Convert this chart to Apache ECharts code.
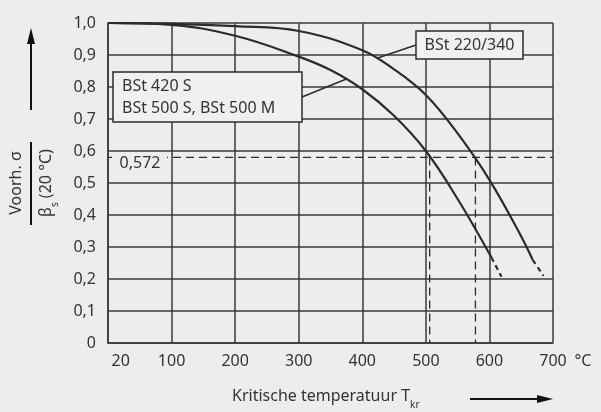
<!DOCTYPE html>
<html>
<head>
<meta charset="utf-8">
<script src="https://cdn.jsdelivr.net/npm/echarts@6/dist/echarts.min.js"></script>
<style>
  html, body { margin: 0; padding: 0; background: #ededed; }
  #chart { width: 601px; height: 412px; }
</style>
</head>
<body>
<div id="chart"></div>
<script>
// waarden
const xTickLabels = [20, 100, 200, 300, 400, 500, 600, 700];

// BSt 420 S / BSt 500 S / BSt 500 M
const tempLow = [0, 100, 200, 300, 350, 400, 450, 500, 550, 603];
const ratioLow = [1.0, 0.994, 0.96, 0.895, 0.853, 0.793, 0.71, 0.60, 0.45, 0.268];
const tempLowExt = [603, 619];
const ratioLowExt = [0.268, 0.207];

// BSt 220/340
const tempHigh = [0, 100, 200, 300, 400, 450, 500, 550, 600, 650, 668];
const ratioHigh = [1.0, 0.997, 0.99, 0.975, 0.915, 0.855, 0.775, 0.655, 0.51, 0.333, 0.26];
const tempHighExt = [668, 685];
const ratioHighExt = [0.26, 0.21];

// hulplijnen bij 0,572
const refRatio = 0.58;
const refTemps = [506, 578];
const refLabel = '0,572';

const labelHigh = 'BSt 220/340';
const labelLow = ['BSt 420 S', 'BSt 500 S, BSt 500 M'];

const ink = '#2b2b2b';
const gridInk = '#3a3a3a';
const font = 'Noto Sans';

const zip = (xs, ys) => xs.map((x, i) => [x, ys[i]]);

const chart = echarts.init(document.getElementById('chart'));

const curveStyle = { color: ink, width: 2.2 };
const dashStyle = { color: ink, width: 1.3, type: [8, 5] };

const option = {
  backgroundColor: '#ededed',
  animation: false,
  textStyle: { fontFamily: font, color: '#333' },
  grid: { left: 108, right: 48, top: 23, bottom: 69 },
  xAxis: {
    type: 'value',
    min: 0,
    max: 700,
    interval: 100,
    axisLine: { show: true, lineStyle: { color: gridInk, width: 1.5 } },
    axisTick: { show: false },
    splitLine: { show: true, lineStyle: { color: gridInk, width: 1.5 } },
    axisLabel: {
      customValues: xTickLabels,
      margin: 10,
      fontSize: 16,
      color: '#333',
      fontFamily: font
    }
  },
  yAxis: {
    type: 'value',
    min: 0,
    max: 1,
    interval: 0.1,
    axisLine: { show: true, lineStyle: { color: gridInk, width: 1.5 } },
    axisTick: { show: false },
    splitLine: { show: true, lineStyle: { color: gridInk, width: 1.5 } },
    axisLabel: {
      margin: 12,
      fontSize: 16,
      color: '#333',
      fontFamily: font,
      formatter: v => (v === 0 ? '0' : v.toFixed(1).replace('.', ','))
    }
  },
  series: [
    {
      type: 'line', data: zip(tempLow, ratioLow), smooth: 0.4,
      symbol: 'none', lineStyle: curveStyle, z: 5
    },
    {
      type: 'line', data: zip(tempLowExt, ratioLowExt), symbol: 'none',
      lineStyle: { color: ink, width: 2.2, type: [5, 4] }, z: 5
    },
    {
      type: 'line', data: zip(tempHigh, ratioHigh), smooth: 0.4,
      symbol: 'none', lineStyle: curveStyle, z: 5
    },
    {
      type: 'line', data: zip(tempHighExt, ratioHighExt), symbol: 'none',
      lineStyle: { color: ink, width: 2.2, type: [5, 4] }, z: 5
    },
    {
      type: 'line', data: [[0, refRatio], [700, refRatio]], symbol: 'none',
      lineStyle: dashStyle, z: 4
    },
    ...refTemps.map(t => ({
      type: 'line', data: [[t, refRatio], [t, 0]], symbol: 'none',
      lineStyle: dashStyle, z: 4
    }))
  ]
};

chart.setOption(option);

// annotaties en astitels
const px = p => chart.convertToPixel({ gridIndex: 0 }, p);
const refPx = px([0, refRatio]);
const hiAnchor = px([423, 0.89]);
const loAnchor = px([375, 0.825]);
const boxBg = '#f0f0f0';

const graphic = [
  // 0,572 label
  {
    type: 'rect', z: 20,
    shape: { x: refPx[0] + 4, y: refPx[1] - 3, width: 55, height: 20 },
    style: { fill: '#ededed' }
  },
  {
    type: 'text', z: 21, x: refPx[0] + 32, y: refPx[1] + 6,
    style: { text: refLabel, fontSize: 16, fontFamily: font, fill: '#333', align: 'center', verticalAlign: 'middle' }
  },
  // BSt 220/340
  {
    type: 'line', z: 20,
    shape: { x1: 416, y1: 45, x2: hiAnchor[0], y2: hiAnchor[1] },
    style: { stroke: ink, lineWidth: 1.5 }
  },
  {
    type: 'rect', z: 21,
    shape: { x: 416, y: 31, width: 107, height: 28 },
    style: { fill: boxBg, stroke: ink, lineWidth: 1.5 }
  },
  {
    type: 'text', z: 22, x: 469.5, y: 45,
    style: { text: labelHigh, fontSize: 16, fontFamily: font, fill: '#333', align: 'center', verticalAlign: 'middle' }
  },
  // BSt 420 S ...
  {
    type: 'line', z: 20,
    shape: { x1: 302, y1: 97, x2: loAnchor[0], y2: loAnchor[1] },
    style: { stroke: ink, lineWidth: 1.5 }
  },
  {
    type: 'rect', z: 21,
    shape: { x: 113, y: 72, width: 189, height: 50 },
    style: { fill: boxBg, stroke: ink, lineWidth: 1.5 }
  },
  {
    type: 'text', z: 22, x: 122, y: 97,
    style: {
      text: labelLow.join('\n'), fontSize: 16, lineHeight: 22, fontFamily: font,
      fill: '#333', align: 'left', verticalAlign: 'middle'
    }
  },
  // °C
  {
    type: 'text', x: 583, y: 361,
    style: { text: '°C', fontSize: 16, fontFamily: font, fill: '#333', align: 'center', verticalAlign: 'middle' }
  },
  // x-astitel
  {
    type: 'text', x: 232, y: 399,
    style: {
      text: '{n|Kritische temperatuur T}{s|kr}',
      fontFamily: font, fill: '#333', align: 'left', verticalAlign: 'middle',
      rich: {
        n: { fontSize: 16, fontFamily: font, lineHeight: 22, verticalAlign: 'top' },
        s: { fontSize: 10, fontFamily: font, lineHeight: 10, verticalAlign: 'bottom' }
      }
    }
  },
  {
    type: 'line', shape: { x1: 470, y1: 399, x2: 540, y2: 399 },
    style: { stroke: '#111', lineWidth: 2 }
  },
  {
    type: 'polygon', shape: { points: [[553, 399], [537, 395], [537, 403]] },
    style: { fill: '#111' }
  },
  // y-astitel
  {
    type: 'line', shape: { x1: 31, y1: 42, x2: 31, y2: 110 },
    style: { stroke: '#111', lineWidth: 2 }
  },
  {
    type: 'polygon', shape: { points: [[31, 28], [27, 44], [35, 44]] },
    style: { fill: '#111' }
  },
  {
    type: 'text', x: 16, y: 183, rotation: Math.PI / 2,
    style: { text: 'Voorh. σ', fontSize: 16, fontFamily: font, fill: '#333', align: 'center', verticalAlign: 'middle' }
  },
  {
    type: 'line', shape: { x1: 31, y1: 142, x2: 31, y2: 225 },
    style: { stroke: '#111', lineWidth: 2 }
  },
  {
    type: 'text', x: 49, y: 183, rotation: Math.PI / 2,
    style: {
      text: '{n|β}{s|s}{n| (20 °C)}',
      fontFamily: font, fill: '#333', align: 'center', verticalAlign: 'middle',
      rich: {
        n: { fontSize: 16, fontFamily: font, lineHeight: 22, verticalAlign: 'top' },
        s: { fontSize: 10, fontFamily: font, lineHeight: 10, verticalAlign: 'bottom' }
      }
    }
  }
];

chart.setOption({ graphic });
</script>
</body>
</html>
